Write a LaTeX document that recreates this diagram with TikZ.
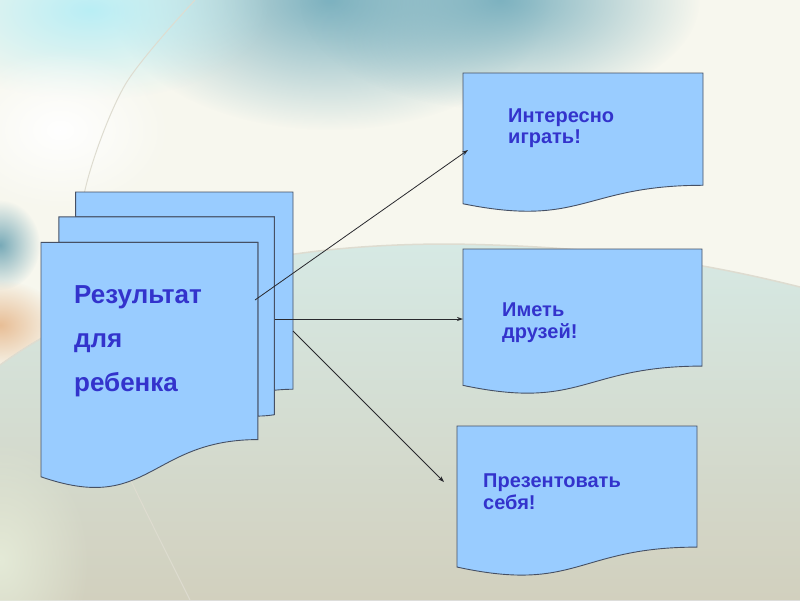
\documentclass[tikz,border=0pt]{standalone}
\usepackage{fontspec}
\setmainfont{Liberation Sans}
\usetikzlibrary{arrows.meta,fadings}
\definecolor{docfill}{HTML}{99CCFF}
\definecolor{docline}{RGB}{70,80,100}
\definecolor{txtblue}{HTML}{3333CC}
\definecolor{bgbase}{RGB}{247,247,238}
\definecolor{tealtop}{RGB}{125,178,192}
\definecolor{cyantop}{RGB}{185,238,245}
\definecolor{tealleft}{RGB}{120,170,184}
\definecolor{peach}{RGB}{232,190,150}
\definecolor{lowtop}{RGB}{214,233,228}
\definecolor{lowbot}{RGB}{210,208,190}
\definecolor{lowleft}{RGB}{228,234,215}
\definecolor{faint}{RGB}{222,220,208}
\definecolor{arrowcol}{RGB}{40,40,45}
\tikzfading[name=fuzzyblob, inner color=transparent!0, outer color=transparent!100]
\tikzset{
  docst/.style={fill=docfill, draw=docline, line width=0.9pt, line join=miter},
  bigtxt/.style={text=txtblue, font=\bfseries\fontsize{26}{44}\selectfont, align=left, inner sep=0pt, anchor=base west},
  smalltxt/.style={text=txtblue, font=\bfseries\fontsize{20}{21.5}\selectfont, align=left, inner sep=0pt, anchor=base west},
  conn/.style={draw=arrowcol, line width=0.8pt, -{Stealth[length=6pt,width=4pt]}},
  blob/.style={path fading=fuzzyblob}
}
% document shape: x, y (top-left), width, height
\newcommand\docshape[4]{%
  \filldraw[docst] (#1,#2) -- ({#1+#3},#2) -- ({#1+#3},{#2+0.802*#4})
    .. controls ({#1+0.5*#3},{#2+0.802*#4}) and ({#1+0.5*#3},{#2+1.1075*#4}) ..
    (#1,{#2+0.934*#4}) -- cycle;}
% multidocument coordinates, given in hundredths of the 21600 grid
\newcommand\mx[1]{{41+#1/216*252}}
\newcommand\my[1]{{192+#1/216*296}}
\begin{document}
\begin{tikzpicture}[x=1pt,y=-1pt]
\useasboundingbox (0,0) rectangle (800,600);
% ---------- background ----------
\fill[bgbase] (0,0) rectangle (800,600);
\fill[tealtop, blob] (330,0) ellipse [x radius=220pt, y radius=130pt];
\fill[tealtop, blob] (500,0) ellipse [x radius=200pt, y radius=110pt];
\fill[cyantop, blob] (90,10) ellipse [x radius=180pt, y radius=90pt];
\fill[white, blob] (60,130) ellipse [x radius=110pt, y radius=80pt];
\fill[tealleft, blob] (0,245) ellipse [x radius=40pt, y radius=45pt];
\fill[peach, blob] (0,325) ellipse [x radius=60pt, y radius=45pt];
\fill[top color=lowtop, bottom color=lowbot]
  (0,365) .. controls (150,258) and (330,244) .. (450,244)
  .. controls (600,246) and (700,262) .. (800,287) -- (800,600) -- (0,600) -- cycle;
\fill[lowleft, blob] (0,560) ellipse [x radius=90pt, y radius=120pt];
\draw[faint, line width=1.5pt]
  (0,365) .. controls (150,258) and (330,244) .. (450,244)
  .. controls (600,246) and (700,262) .. (800,287);
\draw[faint, line width=1pt] plot[smooth] coordinates {(195,0) (125,85) (85,190) (76,300) (95,400) (133,485) (190,600)};
% ---------- multidocument ----------
\filldraw[docst] (\mx{29.72},\my{18.15}) -- (\mx{29.72},\my{0}) -- (\mx{216},\my{0}) -- (\mx{216},\my{143.92})
  .. controls (\mx{208},\my{143.92}) and (\mx{200},\my{144.67}) .. (\mx{200},\my{144.67}) -- (\mx{200},\my{18.15}) -- cycle;
\filldraw[docst] (\mx{15.32},\my{36.75}) -- (\mx{15.32},\my{18.15}) -- (\mx{200},\my{18.15}) -- (\mx{200},\my{162.52})
  .. controls (\mx{192.98},\my{163.52}) and (\mx{185.95},\my{163.52}) .. (\mx{185.95},\my{163.52}) -- (\mx{185.95},\my{36.75}) -- cycle;
\filldraw[docst] (\mx{0},\my{36.75}) -- (\mx{185.95},\my{36.75}) -- (\mx{185.95},\my{180.67})
  .. controls (\mx{92.98},\my{180.67}) and (\mx{92.98},\my{235.42}) .. (\mx{0},\my{207.82}) -- cycle;
\node[bigtxt] (t0) at (74,391) {Результат\\для\\ребенка};
% ---------- documents on the right ----------
\docshape{463}{73}{240}{140}
\docshape{463}{249}{239}{146}
\docshape{457}{426}{240}{151}
\node[smalltxt] (t1) at (508,143.5) {Интересно\\играть!};
\node[smalltxt] (t2) at (502,338) {Иметь\\друзей!};
\node[smalltxt] (t3) at (483,509) {Презентовать\\себя!};
% ---------- connectors ----------
\coordinate (s1) at (255,300);
\coordinate (e1) at (468,150);
\coordinate (s2) at (275,319);
\coordinate (e2) at (463,319);
\coordinate (s3) at (293,331);
\coordinate (e3) at (444,482);
\draw[conn] (s1) -- (e1);
\draw[conn] (s2) -- (e2);
\draw[conn] (s3) -- (e3);
\end{tikzpicture}
\end{document}
